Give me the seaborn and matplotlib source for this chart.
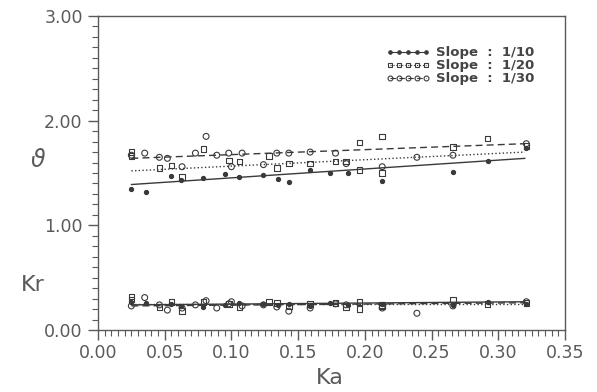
import matplotlib
matplotlib.use("Agg")
import matplotlib.pyplot as plt
import numpy as np
import pandas as pd
import seaborn as sns
from matplotlib.lines import Line2D
from matplotlib.ticker import MultipleLocator, FormatStrFormatter

# ---------------- data ----------------
slopes = ["1/10", "1/20", "1/30"]

ka_10 = [0.025, 0.036, 0.055, 0.062, 0.079, 0.095, 0.106, 0.124, 0.135, 0.143,
         0.159, 0.174, 0.187, 0.213, 0.266, 0.292, 0.321]
theta_10 = [1.35, 1.32, 1.47, 1.43, 1.45, 1.49, 1.46, 1.48, 1.44, 1.41,
            1.53, 1.50, 1.50, 1.42, 1.51, 1.61, 1.74]
kr_10 = [0.27, 0.26, 0.25, 0.23, 0.22, 0.24, 0.26, 0.25, 0.24, 0.25,
         0.23, 0.26, 0.24, 0.25, 0.24, 0.27, 0.25]

ka_20 = [0.025, 0.025, 0.046, 0.055, 0.063, 0.079, 0.098, 0.106, 0.128, 0.134,
         0.143, 0.159, 0.178, 0.186, 0.196, 0.196, 0.213, 0.213, 0.266, 0.292, 0.321]
theta_20 = [1.70, 1.66, 1.55, 1.57, 1.46, 1.73, 1.62, 1.61, 1.66, 1.55,
            1.59, 1.59, 1.61, 1.61, 1.79, 1.53, 1.85, 1.50, 1.75, 1.83, 1.76]
kr_20 = [0.32, 0.29, 0.22, 0.27, 0.18, 0.27, 0.25, 0.22, 0.27, 0.26,
         0.23, 0.25, 0.26, 0.22, 0.27, 0.20, 0.24, 0.23, 0.29, 0.25, 0.26]

ka_30 = [0.025, 0.035, 0.046, 0.052, 0.063, 0.073, 0.081, 0.089, 0.098, 0.100,
         0.108, 0.124, 0.134, 0.143, 0.159, 0.178, 0.186, 0.213, 0.239, 0.266, 0.321]
theta_30 = [1.67, 1.69, 1.65, 1.64, 1.56, 1.69, 1.85, 1.67, 1.69, 1.56,
            1.69, 1.58, 1.69, 1.69, 1.70, 1.69, 1.59, 1.56, 1.65, 1.67, 1.78]
kr_30 = [0.23, 0.31, 0.24, 0.19, 0.21, 0.24, 0.28, 0.21, 0.25, 0.27,
         0.23, 0.24, 0.22, 0.18, 0.21, 0.25, 0.24, 0.21, 0.16, 0.23, 0.27]

# fitted lines (end points)
fit_ka = [0.025, 0.32]
fit_theta_10 = [1.39, 1.64]
fit_theta_20 = [1.52, 1.70]
fit_theta_30 = [1.64, 1.78]
fit_kr_10 = [0.24, 0.27]
fit_kr_20 = [0.25, 0.25]
fit_kr_30 = [0.23, 0.26]

x_ticks = [0.00, 0.05, 0.10, 0.15, 0.20, 0.25, 0.30, 0.35]
y_ticks = [0.00, 1.00, 2.00, 3.00]

# ---------------- figure ----------------
sns.set_style("ticks")
plt.rcParams["font.family"] = ["DejaVu Sans"]

W, H = 597, 392
fig = plt.figure(figsize=(W / 100, H / 100), dpi=100)
ax = fig.add_axes([98 / W, 62 / H, 467 / W, 314 / H])

ink = "#3a3a3a"
grey = "#5a5a5a"

styles = {
    "1/10": dict(marker="o", s=9, facecolor=ink, edgecolor=ink, ls="-"),
    "1/20": dict(marker="s", s=16, facecolor="none", edgecolor=ink, ls=":"),
    "1/30": dict(marker="o", s=18, facecolor="none", edgecolor=ink, ls=(0, (5, 3))),
}
series = {
    "1/10": (ka_10, theta_10, kr_10, fit_theta_10, fit_kr_10),
    "1/20": (ka_20, theta_20, kr_20, fit_theta_20, fit_kr_20),
    "1/30": (ka_30, theta_30, kr_30, fit_theta_30, fit_kr_30),
}

for sl in slopes:
    ka, th, kr, fth, fkr = series[sl]
    st = styles[sl]
    df = pd.DataFrame({"Ka": ka + ka, "v": th + kr})
    sns.scatterplot(data=df, x="Ka", y="v", ax=ax, marker=st["marker"], s=st["s"],
                    facecolor=st["facecolor"], edgecolor=st["edgecolor"],
                    linewidth=0.8, legend=False, zorder=3)
    for fy in (fth, fkr):
        sns.lineplot(x=fit_ka, y=fy, ax=ax, color=ink, linewidth=1.0,
                     linestyle=st["ls"], legend=False, zorder=2)

ax.set_xlim(0, 0.35)
ax.set_ylim(0, 3.0)
ax.set_xticks(x_ticks)
ax.set_yticks(y_ticks)
ax.xaxis.set_minor_locator(MultipleLocator(0.005))
ax.yaxis.set_minor_locator(MultipleLocator(0.1))
ax.xaxis.set_major_formatter(FormatStrFormatter("%.2f"))
ax.yaxis.set_major_formatter(FormatStrFormatter("%.2f"))
ax.tick_params(which="major", direction="out", length=7, width=1, color=grey,
               labelsize=12.5, labelcolor=grey, pad=4)
ax.tick_params(which="minor", direction="out", length=4, width=0.8, color=grey)
ax.tick_params(axis="x", pad=3)
for sp in ax.spines.values():
    sp.set_visible(True)
    sp.set_color(grey)
    sp.set_linewidth(1.0)
ax.set_xlabel("")
ax.set_ylabel("")

fig.text(330 / W, 1 - 378 / H, "Ka", ha="center", va="center", fontsize=16, color=grey)
fig.text(33 / W, 1 - 285 / H, "Kr", ha="center", va="center", fontsize=16, color=grey)
fig.text(38 / W, 1 - 160 / H, "\u03d1", ha="center", va="center", fontsize=17,
         color=grey, style="italic")

handles = []
for sl in slopes:
    st = styles[sl]
    handles.append(Line2D([], [], color=ink, linestyle=st["ls"], linewidth=0.8,
                          marker=st["marker"], markersize=3.5 if sl != "1/10" else 2.5,
                          markerfacecolor=st["facecolor"] if st["facecolor"] != "none" else "none",
                          markeredgecolor=ink, markeredgewidth=0.8))
leg = ax.legend(handles, [f"Slope  :  {sl}" for sl in slopes], loc="upper right",
                bbox_to_anchor=((540 - 98) / 467, (330 - 41) / 314), borderaxespad=0,
                frameon=False, numpoints=5,
                handlelength=3.4, handletextpad=0.45, labelspacing=0.0,
                prop={"size": 9.5, "weight": "bold"})
for t in leg.get_texts():
    t.set_color("#444444")

fig.savefig("out.png", dpi=100, facecolor="white")
